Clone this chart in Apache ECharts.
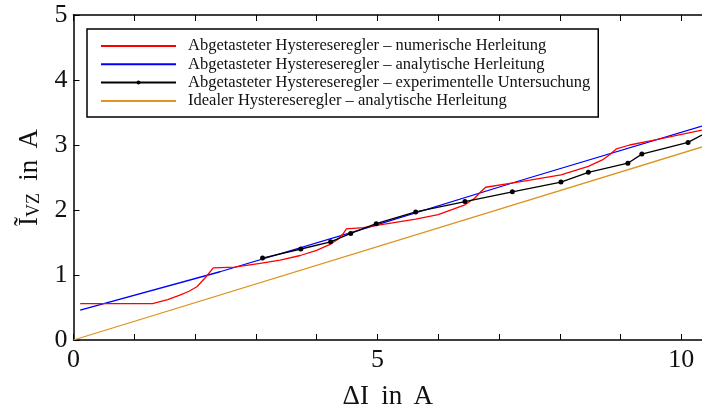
<!DOCTYPE html>
<html>
<head>
<meta charset="utf-8">
<script src="https://cdn.jsdelivr.net/npm/echarts@6/dist/echarts.min.js"></script>
<style>html,body{margin:0;padding:0;background:#fff}#c{width:702px;height:410px}</style>
</head>
<body>
<div id="c"></div>
<script>
var seriesNames = [
  'Abgetasteter Hystereseregler \u2013 numerische Herleitung',
  'Abgetasteter Hystereseregler \u2013 analytische Herleitung',
  'Abgetasteter Hystereseregler \u2013 experimentelle Untersuchung',
  'Idealer Hystereseregler \u2013 analytische Herleitung'
];
var numericX = [0.11,1.30,1.55,1.75,1.90,2.03,2.16,2.30,2.65,3.07,3.40,3.73,4.00,4.22,4.35,4.44,4.49,4.77,5.04,5.63,6.00,6.44,6.60,6.70,6.78,7.18,7.51,8.02,8.47,8.70,8.82,8.93,9.15,9.53,10.34];
var numericY = [0.56,0.56,0.62,0.69,0.75,0.82,0.95,1.11,1.12,1.18,1.23,1.30,1.38,1.47,1.55,1.64,1.71,1.73,1.77,1.86,1.93,2.08,2.18,2.28,2.35,2.41,2.46,2.54,2.67,2.77,2.85,2.94,3.00,3.07,3.23];
var analyticX = [0.11,2.41,4.88,7.34,10.34];
var analyticY = [0.46,1.05,1.74,2.45,3.29];
var experimentX = [3.11,3.74,4.23,4.56,4.98,5.63,6.44,7.22,8.02,8.47,9.12,9.35,10.11,10.60];
var experimentY = [1.26,1.40,1.51,1.64,1.79,1.97,2.13,2.28,2.43,2.58,2.72,2.86,3.04,3.28];
var idealX = [0,10.34];
var idealY = [0.0,2.97];
var xTicks = {min:0, max:10.34, interval:1};
var yTicks = {min:0, max:5, interval:1};

function pairs(xs, ys){ return xs.map(function(x,i){ return [x, ys[i]]; }); }

var FONT = 'Liberation Serif';
var chart = echarts.init(document.getElementById('c'), null, {renderer:'canvas'});
var axisLineStyle = {color:'#000', width:1.5};
chart.setOption({
  animation:false,
  textStyle:{fontFamily:FONT},
  grid:{left:73.5, right:0, top:15, bottom:70, show:false, containLabel:false, outerBoundsMode:'none'},
  legend:{
    left:87, top:29, orient:'vertical',
    itemWidth:75, itemHeight:5, itemGap:0.3,
    padding:[8,8,7,13],
    borderColor:'#000', borderWidth:1.5,
    textStyle:{fontFamily:FONT, fontSize:16.5, lineHeight:18, color:'#111', padding:[0,0,0,7]},
    data:[
      {name:seriesNames[0], itemStyle:{opacity:0}},
      {name:seriesNames[1], itemStyle:{opacity:0}},
      {name:seriesNames[2]},
      {name:seriesNames[3], itemStyle:{opacity:0}}
    ]
  },
  xAxis:[{
    type:'value', min:xTicks.min, max:xTicks.max, interval:xTicks.interval,
    name:'\u0394I\u2009 in\u2006 A', nameLocation:'middle', nameGap:43,
    nameTextStyle:{fontFamily:FONT, fontSize:27, color:'#111'},
    axisLine:{show:true, lineStyle:axisLineStyle},
    axisTick:{show:true, inside:true, length:6, lineStyle:{color:'#000', width:1}},
    axisLabel:{fontFamily:FONT, fontSize:26, color:'#111', margin:7,
      formatter:function(v){ return (Math.abs(v % 5) < 1e-9) ? String(v) : ''; }},
    splitLine:{show:false}
  },{
    type:'value', position:'top', min:xTicks.min, max:xTicks.max, interval:xTicks.interval,
    axisLine:{show:true, lineStyle:axisLineStyle},
    axisTick:{show:true, inside:true, length:6, lineStyle:{color:'#000', width:1}},
    axisLabel:{show:false}, splitLine:{show:false}
  }],
  yAxis:{
    type:'value', min:yTicks.min, max:yTicks.max, interval:yTicks.interval,
    name:'{a|\u0128}{s|VZ}{a|\u2009 in\u2006 A}', nameLocation:'middle', nameGap:24,
    nameTextStyle:{fontFamily:FONT, fontSize:27, color:'#111',
      rich:{
        a:{fontFamily:FONT, fontSize:27, color:'#111', lineHeight:30, verticalAlign:'bottom'},
        s:{fontFamily:FONT, fontSize:18, color:'#111', lineHeight:22, verticalAlign:'bottom'}
      }},
    axisLine:{show:true, lineStyle:axisLineStyle},
    axisTick:{show:true, inside:true, length:6, lineStyle:{color:'#000', width:1}},
    axisLabel:{fontFamily:FONT, fontSize:26, color:'#111', margin:6},
    splitLine:{show:false}
  },
  series:[
    {name:seriesNames[0], type:'line', data:pairs(numericX, numericY), symbol:'none',
     lineStyle:{color:'#ff0000', width:1.3}, itemStyle:{color:'#ff0000'}, z:3},
    {name:seriesNames[1], type:'line', data:pairs(analyticX, analyticY), symbol:'none',
     lineStyle:{color:'#0000ff', width:1.3}, itemStyle:{color:'#0000ff'}, z:2},
    {name:seriesNames[2], type:'line', data:pairs(experimentX, experimentY), symbol:'circle', symbolSize:5,
     lineStyle:{color:'#000', width:1.3}, itemStyle:{color:'#000'}, clip:true, z:4},
    {name:seriesNames[3], type:'line', data:pairs(idealX, idealY), symbol:'none',
     lineStyle:{color:'#dd9420', width:1.3}, itemStyle:{color:'#dd9420'}, z:1}
  ]
});
</script>
</body>
</html>
